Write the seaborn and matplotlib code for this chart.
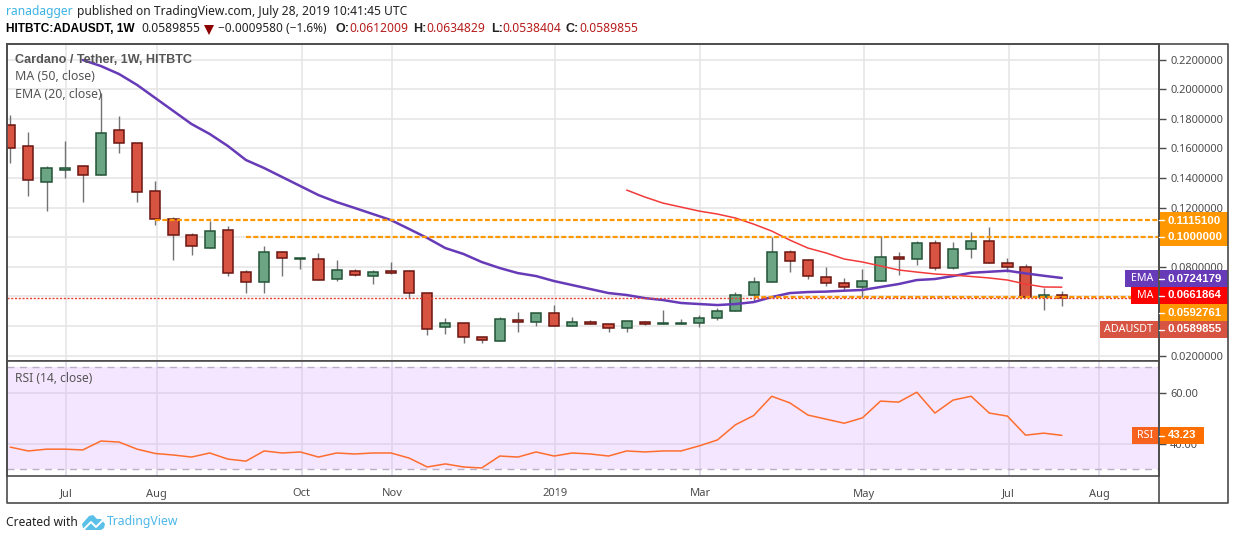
import numpy as np
import pandas as pd
import matplotlib
matplotlib.use('Agg')
import matplotlib.pyplot as plt
from matplotlib.patches import Rectangle, Polygon
import seaborn as sns

# weekly ADAUSDT candles
opens = [0.1755, 0.1613, 0.1370, 0.1455, 0.1478, 0.1418, 0.1722, 0.1634, 0.1309, 0.1120,
         0.1012, 0.0924, 0.1046, 0.0762, 0.0695, 0.0897, 0.0854, 0.0850, 0.0715, 0.0769,
         0.0735, 0.0769, 0.0769, 0.0620, 0.0391, 0.0418, 0.0323, 0.0296, 0.0438, 0.0424,
         0.0485, 0.0397, 0.0424, 0.0411, 0.0384, 0.0424, 0.0416, 0.0416, 0.0418, 0.0451,
         0.0498, 0.0610, 0.0695, 0.0897, 0.0843, 0.0728, 0.0688, 0.0661, 0.0701, 0.0863,
         0.0850, 0.0958, 0.0789, 0.0918, 0.0972, 0.0823, 0.0796, 0.0593, 0.0612]
highs = [0.1825, 0.1710, 0.1480, 0.1649, 0.1480, 0.1972, 0.1818, 0.1634, 0.1377, 0.1134,
         0.1028, 0.1107, 0.1073, 0.0776, 0.0938, 0.0904, 0.0857, 0.0890, 0.0843, 0.0782,
         0.0776, 0.0832, 0.0776, 0.0620, 0.0451, 0.0418, 0.0323, 0.0458, 0.0492, 0.0485,
         0.0539, 0.0458, 0.0438, 0.0411, 0.0431, 0.0431, 0.0507, 0.0446, 0.0471, 0.0518,
         0.0630, 0.0728, 0.0999, 0.0911, 0.0850, 0.0796, 0.0722, 0.0782, 0.1007, 0.0897,
         0.0972, 0.0978, 0.0965, 0.1032, 0.1066, 0.0857, 0.0816, 0.0654, 0.0635]
lows = [0.1498, 0.1280, 0.1178, 0.1401, 0.1239, 0.1418, 0.1570, 0.1235, 0.1084, 0.0847,
        0.0881, 0.0924, 0.0739, 0.0624, 0.0624, 0.0739, 0.0786, 0.0708, 0.0705, 0.0735,
        0.0685, 0.0749, 0.0588, 0.0340, 0.0347, 0.0286, 0.0286, 0.0296, 0.0361, 0.0401,
        0.0397, 0.0397, 0.0411, 0.0361, 0.0361, 0.0404, 0.0416, 0.0416, 0.0394, 0.0440,
        0.0498, 0.0566, 0.0695, 0.0766, 0.0715, 0.0672, 0.0642, 0.0593, 0.0701, 0.0742,
        0.0809, 0.0776, 0.0782, 0.0857, 0.0823, 0.0762, 0.0593, 0.0505, 0.0538]
closes = [0.1600, 0.1384, 0.1465, 0.1465, 0.1418, 0.1701, 0.1634, 0.1303, 0.1120, 0.1012,
          0.0938, 0.1039, 0.0755, 0.0695, 0.0897, 0.0857, 0.0857, 0.0708, 0.0776, 0.0742,
          0.0762, 0.0755, 0.0620, 0.0377, 0.0418, 0.0323, 0.0303, 0.0445, 0.0424, 0.0485,
          0.0397, 0.0424, 0.0411, 0.0384, 0.0431, 0.0411, 0.0418, 0.0418, 0.0451, 0.0498,
          0.0610, 0.0695, 0.0897, 0.0836, 0.0735, 0.0688, 0.0661, 0.0701, 0.0863, 0.0850,
          0.0958, 0.0789, 0.0918, 0.0972, 0.0823, 0.0796, 0.0593, 0.0607, 0.0590]

# purple line starts at candle 4, red line at candle 34
purple_line = [0.2197, 0.2156, 0.2102, 0.2028, 0.1940, 0.1852, 0.1764, 0.1697, 0.1616, 0.1521,
               0.1467, 0.1406, 0.1345, 0.1284, 0.1237, 0.1197, 0.1156, 0.1115, 0.1055, 0.0994,
               0.0926, 0.0886, 0.0832, 0.0791, 0.0757, 0.0737, 0.0703, 0.0676, 0.0649, 0.0622,
               0.0609, 0.0588, 0.0575, 0.0555, 0.0548, 0.0541, 0.0548, 0.0561, 0.0595, 0.0622,
               0.0629, 0.0632, 0.0638, 0.0643, 0.0663, 0.0683, 0.0710, 0.0717, 0.0737, 0.0759,
               0.0766, 0.0773, 0.0755, 0.0739, 0.0724]
red_line = [0.1318, 0.1271, 0.1230, 0.1203, 0.1176, 0.1156, 0.1129, 0.1088, 0.1041, 0.0980,
            0.0926, 0.0893, 0.0852, 0.0832, 0.0805, 0.0778, 0.0764, 0.0751, 0.0744, 0.0734,
            0.0724, 0.0710, 0.0683, 0.0663, 0.0662]
rsi = [38.6, 37.1, 37.8, 37.8, 37.5, 41.0, 40.6, 37.8, 36.1, 35.5,
       34.7, 36.3, 33.9, 33.1, 37.1, 36.3, 36.7, 34.7, 36.3, 35.9,
       36.3, 36.3, 34.3, 30.8, 32.0, 30.8, 30.4, 35.1, 34.7, 36.7,
       35.1, 36.3, 35.9, 35.1, 37.1, 36.7, 37.1, 37.1, 39.1, 41.4,
       47.4, 51.0, 58.6, 56.0, 51.2, 49.6, 48.0, 50.1, 56.7, 56.3,
       60.2, 52.0, 57.1, 58.6, 52.0, 50.8, 43.3, 44.1, 43.23]

price_ticks = [0.02, 0.04, 0.06, 0.08, 0.10, 0.12, 0.14, 0.16, 0.18, 0.20, 0.22]
# these three sit behind the coloured price tags in the reference
hidden_ticks = [0.04, 0.06, 0.10]
rsi_ticks = [40, 60]
month_labels = ['Jul', 'Aug', 'Oct', 'Nov', '2019', 'Mar', 'May', 'Jul', 'Aug']
month_pos = [3.07, 8.07, 16.07, 21.07, 30.07, 38.07, 47.07, 55.07, 60.07]
levels = [0.11151, 0.10, 0.0592761]
level_starts = [8, 13, 41]
last_close = 0.0589855

UP, DOWN = '#6ba583', '#d75442'
UP_EDGE, DOWN_EDGE = '#225437', '#6b1510'
WICK = '#737375'
PURPLE = '#673ab7'
AXIS = '#4c4c4c'
GRID = '#e6e6e6'

sns.set_theme(style='white')
plt.rcParams['font.family'] = ['Noto Sans', 'DejaVu Sans']
W, H = 1234, 540
fig = plt.figure(figsize=(W / 100, H / 100), dpi=100, facecolor='white')


def pane(x0, y0, x1, y1):
    # pane position given in pixels from the top left
    return fig.add_axes([x0 / W, 1 - y1 / H, (x1 - x0) / W, (y1 - y0) / H])


ax = pane(7, 44, 1159, 361)
ax_rsi = pane(7, 361, 1159, 476)

df = pd.DataFrame({'o': opens, 'h': highs, 'l': lows, 'c': closes, 'rsi': rsi})
df['x'] = df.index
df['up'] = df['c'] >= df['o']
df['purple'] = [np.nan] * (len(df) - len(purple_line)) + purple_line
df['red'] = [np.nan] * (len(df) - len(red_line)) + red_line

# candles
ax.vlines(df['x'], df['l'], df['h'], color=WICK, lw=1, zorder=2)
ax.bar(df['x'], (df['c'] - df['o']).abs(), bottom=df[['o', 'c']].min(axis=1), width=0.56,
       color=df['up'].map({True: UP, False: DOWN}),
       edgecolor=df['up'].map({True: UP_EDGE, False: DOWN_EDGE}), linewidth=1.1, zorder=3)

sns.lineplot(data=df, x='x', y='purple', color=PURPLE, lw=1.8, ax=ax, zorder=4)
sns.lineplot(data=df, x='x', y='red', color='#f23a3a', lw=1.1, ax=ax, zorder=4)

ax.hlines(levels, level_starts, 64, color='#ff9800', lw=1.6, linestyles=(0, (2.2, 1.1)), zorder=5)
ax.axhline(last_close, color='#e8402f', lw=1, ls=(0, (1.5, 1.2)), zorder=5)

ax.set_xlim(-0.18, 63.36)
ax.set_ylim(0.0163, 0.2305)
ax.set_yticks(price_ticks)
ax.set_yticklabels(['' if t in hidden_ticks else f'{t:.7f}' for t in price_ticks])
ax.set_xticks(month_pos)
ax.tick_params(axis='x', length=0, labelbottom=False)
ax.set_xlabel('')
ax.set_ylabel('')

# RSI pane
ax_rsi.axhspan(30, 70, color='#f4e6fe', lw=0, zorder=0)
sns.lineplot(data=df, x='x', y='rsi', color='#ff6d2e', lw=1.1, ax=ax_rsi, zorder=4)
for lim in (30, 70):
    ax_rsi.axhline(lim, color='#bcaec4', lw=1, ls=(0, (5, 4)), zorder=2)
ax_rsi.set_xlim(-0.18, 63.36)
ax_rsi.set_ylim(27.25, 72.47)
ax_rsi.set_yticks(rsi_ticks)
ax_rsi.set_yticklabels([f'{t:.2f}' for t in rsi_ticks])
ax_rsi.set_xticks(month_pos)
ax_rsi.set_xticklabels(month_labels)
ax_rsi.set_xlabel('')
ax_rsi.set_ylabel('')

for a, grid_col in ((ax, GRID), (ax_rsi, '#e0d5ea')):
    a.grid(True, color=grid_col, lw=1.2)
    a.set_axisbelow(True)
    a.yaxis.tick_right()
    a.tick_params(axis='y', length=5, width=1, color=AXIS, labelcolor=AXIS, labelsize=7.9, pad=3)
    for side in a.spines:
        a.spines[side].set_color(AXIS)
        a.spines[side].set_linewidth(1.2)
ax_rsi.tick_params(axis='x', length=3, width=1, color=AXIS, labelcolor=AXIS, labelsize=8, pad=6)

# everything outside the data goes on a pixel-sized overlay
top = fig.add_axes([0, 0, 1, 1], zorder=10)
top.set_xlim(0, W)
top.set_ylim(H, 0)
top.axis('off')
top.patch.set_alpha(0)

# outer frame
top.plot([7, 1228, 1228, 7, 7], [44, 44, 503, 503, 44], color=AXIS, lw=1.2, clip_on=False)
top.plot([1159, 1159], [44, 503], color=AXIS, lw=1.2)


def txt(x, y, s, color='black', size=8.7, weight='normal', ha='left'):
    # Noto Sans has no bold here, Liberation Sans does
    family = 'Liberation Sans' if weight == 'bold' else 'Noto Sans'
    top.text(x, y, s, color=color, fontsize=size, fontweight=weight, ha=ha, va='center', family=family)


def tag(x0, x1, y0, y1, color, s):
    # value part of a price tag, right of the axis
    top.add_patch(Rectangle((x0, y0), x1 - x0, y1 - y0, color=color, lw=0))
    txt(x0 + 8, (y0 + y1) / 2, s, color='white', size=8.2, weight='bold')


def name_tag(x0, y0, y1, color, s):
    # name part of a price tag, left of the axis
    top.add_patch(Rectangle((x0, y0), 1158 - x0, y1 - y0, color=color, lw=0))
    txt(1153, (y0 + y1) / 2, s, color='white', size=7.7, ha='right')


ORANGE = '#ff9800'
tag(1160, 1228, 212, 229, ORANGE, '0.1115100')
tag(1160, 1228, 229, 246, ORANGE, '0.1000000')
name_tag(1125, 270, 287, PURPLE, 'EMA')
tag(1160, 1228, 270, 287, PURPLE, '0.0724179')
name_tag(1131, 287, 304, '#ff0000', 'MA')
tag(1160, 1228, 287, 304, '#ff0000', '0.0661864')
tag(1160, 1228, 304, 321, ORANGE, '0.0592761')
name_tag(1100, 321, 338, DOWN, 'ADAUSDT')
tag(1160, 1228, 321, 338, DOWN, '0.0589855')
name_tag(1132, 427, 444, '#f7621f', 'RSI')
tag(1160, 1204, 427, 444, '#ff6f00', '43.23')
for y in (220, 237, 278.5, 295.5, 312.5, 329.5, 435.5):
    top.plot([1159, 1164], [y, y], color='white', lw=1)

# header
txt(6, 12, 'ranadagger', color='#3bb3e4')
txt(77, 12, 'published on TradingView.com, July 28, 2019 10:41:45 UTC', color='#222222')
txt(6, 29, 'HITBTC:ADAUSDT, 1W', weight='bold', size=8.6)
txt(141, 29, '0.0589855', color='#222222')
top.add_patch(Polygon([(204, 25), (214, 25), (209, 35)], color='#8b0000', lw=0))
txt(218, 29, '\u22120.0009580 (\u22121.6%)', color='#222222', size=8.5)
for x, name, val in ((336, 'O:', '0.0612009'), (413, 'H:', '0.0634829'),
                     (491, 'L:', '0.0538404'), (566, 'C:', '0.0589855')):
    txt(x, 29, name, weight='bold', color='#222222', size=9)
    txt(x + (11 if name == 'L:' else 13), 29, val, color='#b71c1c')

# legends inside the panes
txt(15, 60, 'Cardano / Tether, 1W, HITBTC', color='#555555', weight='bold', size=9.1)
txt(15, 77, 'MA (50, close)', color='#555555', size=8.9)
txt(15, 94, 'EMA (20, close)', color='#555555', size=8.9)
txt(15, 378, 'RSI (14, close)', color='#555555')

# footer with the small logo
txt(6, 522, 'Created with', color='#222222', size=8.6)
top.add_patch(Polygon([(82, 524), (89, 516), (93, 515), (97, 519), (101, 519), (105, 524),
                       (104, 528), (101, 530), (86, 530), (83, 528)], color='#5bc0e8', lw=0))
top.plot([84, 91, 96, 103], [529, 522, 527, 520], color='white', lw=1.4)
txt(107, 522, 'TradingView', color='#4db8e8', size=8.8)

fig.savefig('out.png', dpi=100)
